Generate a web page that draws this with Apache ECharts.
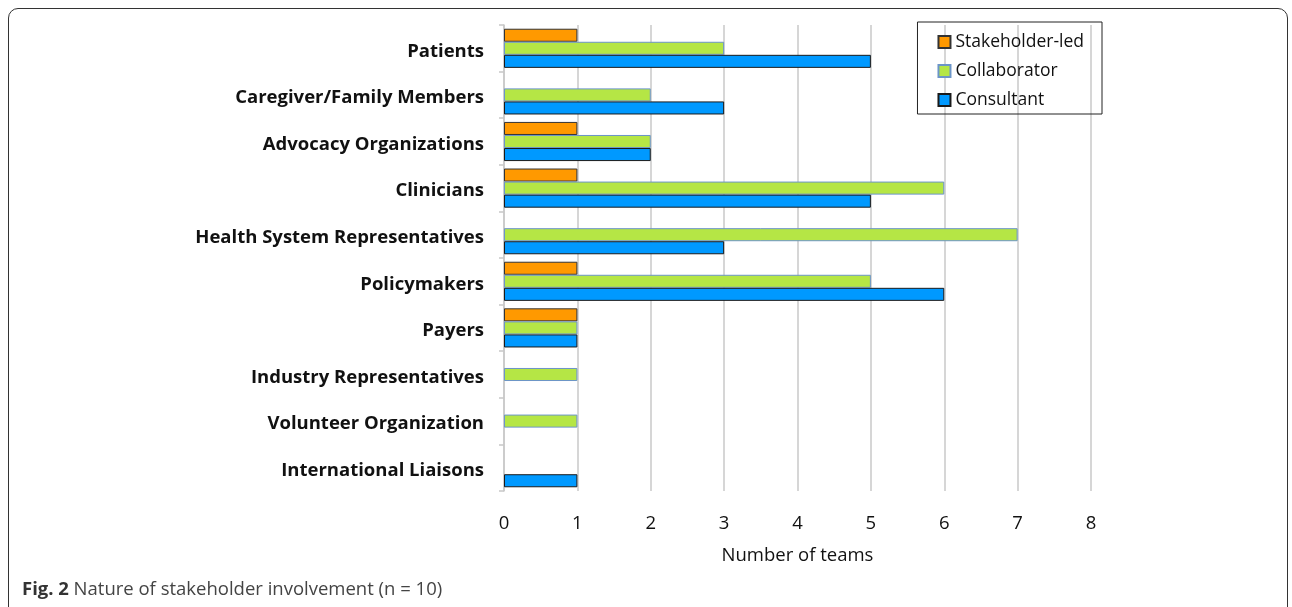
<!DOCTYPE html>
<html>
<head>
<meta charset="utf-8">
<script src="https://cdn.jsdelivr.net/npm/echarts@6/dist/echarts.min.js"></script>
<style>
html, body { margin: 0; padding: 0; background: #fff; }
.frame {
  position: absolute; left: 8px; top: 8px; width: 1280px; height: 620px;
  border: 1.5px solid #333; border-radius: 10px; box-sizing: border-box;
}
#chart { position: absolute; left: 0; top: 0; width: 1292px; height: 607px; }
</style>
</head>
<body>
<div class="frame"></div>
<div id="chart"></div>
<script>
// categories top to bottom
var categories = ['Patients', 'Caregiver/Family Members', 'Advocacy Organizations', 'Clinicians',
  'Health System Representatives', 'Policymakers', 'Payers', 'Industry Representatives',
  'Volunteer Organization', 'International Liaisons']
var stakeholderLed = [1, 0, 1, 1, 0, 1, 1, 0, 0, 0]
var collaborator = [3, 2, 2, 6, 7, 5, 1, 1, 1, 0]
var consultant = [5, 3, 2, 5, 3, 6, 1, 0, 0, 1]
var xTicks = [0, 1, 2, 3, 4, 5, 6, 7, 8]

var font = '"Open Sans", sans-serif'
var chart = echarts.init(document.getElementById('chart'))

// zero values are not drawn
function clean (arr) {
  return arr.map(function (v) { return v === 0 ? null : v })
}

chart.setOption({
  animation: false,
  textStyle: { fontFamily: font },
  title: {
    left: 17, top: 575,
    text: '{b|Fig. 2} {r|Nature of stakeholder involvement (n = 10)}',
    textStyle: {
      fontWeight: 'normal',
      rich: {
        b: { fontFamily: font, fontWeight: 'bold', fontSize: 18.5, color: '#333' },
        r: { fontFamily: font, fontWeight: 'normal', fontSize: 18.5, color: '#444' }
      }
    }
  },
  legend: {
    orient: 'vertical',
    right: 190, top: 22,
    padding: [11, 18, 5, 20],
    itemGap: 11,
    itemWidth: 12, itemHeight: 12,
    borderColor: '#222', borderWidth: 1,
    icon: 'rect',
    textStyle: { fontFamily: font, fontSize: 17.5, color: '#111' },
    data: ['Stakeholder-led', 'Collaborator', 'Consultant']
  },
  grid: { left: 504, right: 201, top: 25, bottom: 116, containLabel: false },
  xAxis: {
    type: 'value', min: 0, max: 8, interval: 1,
    name: 'Number of teams', nameLocation: 'middle', nameGap: 55,
    nameTextStyle: { fontFamily: font, fontSize: 18.5, color: '#111' },
    axisLine: { show: false },
    axisTick: { show: false },
    axisLabel: {
      fontFamily: font, fontSize: 18.5, color: '#111', margin: 23,
      formatter: function (v) { return xTicks.indexOf(v) >= 0 ? String(v) : '' }
    },
    splitLine: { show: true, lineStyle: { color: '#c8c8c8', width: 1.5 } }
  },
  yAxis: {
    type: 'category', inverse: true, data: categories,
    axisLine: { show: true, lineStyle: { color: '#c8c8c8', width: 1.5 } },
    axisTick: { show: true, length: 5, lineStyle: { color: '#c8c8c8', width: 1.5 } },
    axisLabel: {
      margin: 20,
      formatter: function (v) { return '{c|' + v + '}' },
      rich: {
        c: { fontFamily: font, fontSize: 18.5, fontWeight: 'bold', color: '#111', padding: [6, 0, 0, 0] }
      }
    }
  },
  series: [
    {
      name: 'Stakeholder-led', type: 'bar', data: clean(stakeholderLed),
      barGap: '0%', barCategoryGap: '16%',
      itemStyle: { color: '#FF9900', borderColor: '#333', borderWidth: 1 }
    },
    {
      name: 'Collaborator', type: 'bar', data: clean(collaborator),
      itemStyle: { color: '#B5E645', borderColor: '#6C95C8', borderWidth: 1 }
    },
    {
      name: 'Consultant', type: 'bar', data: clean(consultant),
      itemStyle: { color: '#0099FF', borderColor: '#1a1a1a', borderWidth: 1 }
    }
  ]
})
</script>
</body>
</html>
